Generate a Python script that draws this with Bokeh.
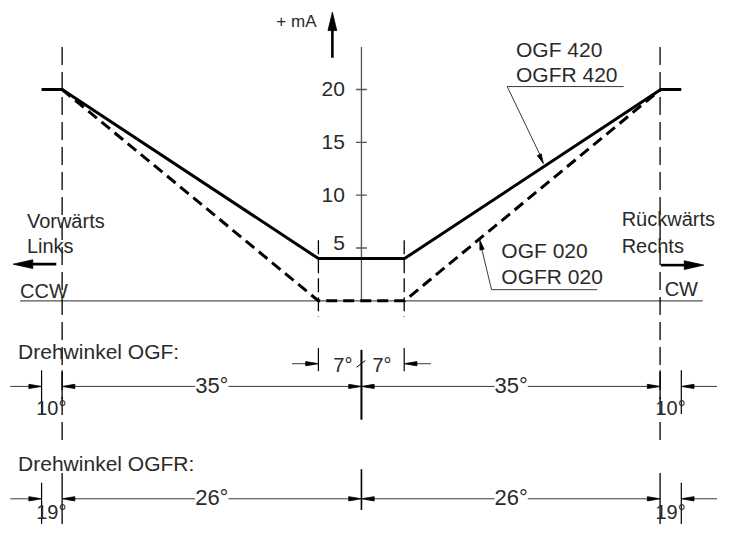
from bokeh.plotting import figure
from bokeh.models import Range1d
from bokeh.core.properties import value
from bokeh.embed import file_html
from bokeh.resources import INLINE

# ---------------- data ----------------
ma_ticks = [5, 10, 15, 20]
ma_tick_labels = ["5", "10", "15", "20"]
ogf420_ma = [20, 20, 4, 4, 20, 20]      # OGF 420 / OGFR 420 (solid)
ogf020_ma = [20, 0, 0, 20]              # OGF 020 / OGFR 020 (dashed)
ogf_angle_labels = ["10°", "35°", "35°", "10°"]
dead_band_labels = ["7°", "7°"]
ogfr_angle_labels = ["19°", "26°", "26°", "19°"]

# schematic (not to scale) horizontal stations, drawing units, centre = 0
x_stop = 327   # end of 20 mA plateau
x_lim = 306    # limit lines
x_db = 44      # dead band edges
sol_x = [-x_stop, -x_lim, -x_db, x_db, x_lim, x_stop]
dash_x = [-x_lim, -x_db, x_db, x_lim]

# ---------------- layout helpers ----------------
W, H = 717, 524
OX, OY, S = 369.0, 309.5, 10.89   # drawing origin and drawing px per mA


def X(px):
    return px - OX


def Y(py):
    return (OY - py) / S


FONT = value("Liberation Sans")
TXT = "#2a2a2a"
THIN = "#3a3a3a"

p = figure(width=W, height=H, output_backend="svg", toolbar_location=None,
           x_range=Range1d(X(0), X(733)), y_range=Range1d(Y(540), Y(0)),
           min_border=0, x_axis_type=None, y_axis_type=None,
           outline_line_color=None, background_fill_color="white")
p.grid.visible = False


def seg(x0, y0, x1, y1, color=THIN, width=1.0, dash="solid"):
    p.segment(x0=[X(x0)], y0=[Y(y0)], x1=[X(x1)], y1=[Y(y1)],
              line_color=color, line_width=width, line_dash=dash)


def head(tx, ty, fx, fy, L=13.0, w=2.2, color="black"):
    # filled arrow head, tip at (tx,ty), pointing away from (fx,fy)
    dx, dy = tx - fx, ty - fy
    n = (dx * dx + dy * dy) ** 0.5
    ux, uy = dx / n, dy / n
    bx, by = tx - ux * L, ty - uy * L
    px_, py_ = -uy * w, ux * w
    xs = [X(tx), X(bx + px_), X(bx - px_)]
    ys = [Y(ty), Y(by + py_), Y(by - py_)]
    p.patch(xs, ys, fill_color=color, line_color=color, line_width=0.8)


def txt(x, y, s, size="20px", align="left", color=TXT):
    p.text(x=[X(x)], y=[Y(y)], text=[s], text_font=FONT, text_font_size=size,
           text_align=align, text_baseline="middle", text_color=color)


# ---------------- chart part ----------------
p.segment(x0=[X(20)], y0=[0], x1=[X(718)], y1=[0], line_color="#555555", line_width=1.3)
p.segment(x0=[0], y0=[0], x1=[0], y1=[Y(48)], line_color="#555555", line_width=1.3)
p.segment(x0=[-5.5] * 4, y0=ma_ticks, x1=[5.5] * 4, y1=ma_ticks,
          line_color="#555555", line_width=1.3)
p.text(x=[-17] * 3, y=ma_ticks[1:], text=ma_tick_labels[1:], text_font=FONT,
       text_font_size="21px", text_align="right", text_baseline="middle", text_color=TXT)
p.text(x=[-17], y=[ma_ticks[0]], text=[ma_tick_labels[0]], text_font=FONT,
       text_font_size="21px", text_align="right", text_baseline="middle",
       text_color=TXT, y_offset=-5)

# mA arrow
seg(339.3, 59, 339.3, 28, color="black", width=2.6)
head(339.3, 12, 339.3, 59, L=19, w=4.5)
txt(282, 22, "+ mA", size="17px")

# limit lines (dashed)
for xl in (63, 674.3):
    seg(xl, 48, xl, 460, color="black", width=1.3, dash="18 7")
    seg(xl, 381, xl, 411, color="black", width=1.3)
    seg(xl, 487, xl, 540, color="black", width=1.3)
for xd in (325, 412.7):
    seg(xd, 247, xd, 326, color="black", width=1.3, dash="14 5")

# characteristic curves
p.line(sol_x, ogf420_ma, line_color="black", line_width=3.0)
p.line(dash_x, ogf020_ma, line_color="black", line_width=3.0, line_dash="11 6")

# labels with leaders
txt(527, 50, "OGF 420", size="21px")
txt(527, 76, "OGFR 420", size="21px")
seg(518, 88.7, 637, 88.7)
seg(518, 88.7, 552, 160)
head(555, 168, 518, 88.7, L=10, w=2.2)

txt(512, 258, "OGF 020", size="21px")
txt(512, 284, "OGFR 020", size="21px")
seg(502, 298, 610, 298)
seg(502, 298, 492, 256)
head(490, 247, 502, 298, L=10, w=2.2)

# direction labels
txt(27, 227, "Vorwärts")
txt(27, 253, "Links")
txt(20, 299, "CCW")
seg(57, 271.7, 30, 271.7, color="black", width=2.6)
head(13, 271.7, 57, 271.7, L=20, w=4.5)

txt(635, 225, "Rückwärts")
txt(635, 253.5, "Rechts")
txt(679, 297, "CW")
seg(675, 272.7, 702, 272.7, color="black", width=2.6)
head(719, 272.7, 675, 272.7, L=20, w=4.5)

# ---------------- dimension part ----------------
txt(18, 362, "Drehwinkel OGF:", size="21px")
txt(18, 477, "Drehwinkel OGFR:", size="21px")

# dead band 7° / 7°
yd = 374.3
seg(325, 358, 325, 382, color="black", width=1.2)
seg(412.7, 358, 412.7, 382, color="black", width=1.2)
seg(298, yd, 314, yd)
head(325, yd, 298, yd)
seg(440, yd, 424, yd)
head(412.7, yd, 440, yd)
txt(350, yd + 1, dead_band_labels[0], size="20px", align="center")
txt(390, yd + 1, dead_band_labels[1], size="20px", align="center")
seg(364, 378, 373, 371, color="black", width=1.0)

# centre extension lines
seg(369, 360, 369, 432, color="black", width=2.0)
seg(369, 483, 369, 525, color="black", width=1.6)


def dim_row(yr, labels, ext_top_outer, lab_y):
    seg(42, ext_top_outer, 42, ext_top_outer + 45, color="black", width=1.2)
    seg(696, ext_top_outer, 696, ext_top_outer + 45, color="black", width=1.2)
    seg(10, yr, 32, yr)
    head(42, yr, 10, yr)
    seg(733, yr, 706, yr)
    head(696, yr, 733, yr)
    for a, b, c in ((63, 369, 216), (369, 674.3, 522)):
        seg(a + 10, yr, c - 17, yr)
        seg(c + 17, yr, b - 10, yr)
        head(a, yr, b, yr)
        head(b, yr, a, yr)
        txt(c, yr - 1, labels[1], size="22px", align="center")
    txt(52, lab_y, labels[0], size="20px", align="center")
    txt(685, lab_y, labels[3], size="20px", align="center")


dim_row(397.7, ogf_angle_labels, 381, 419.5)
dim_row(513.5, ogfr_angle_labels, 497, 527)

open("out.html", "w").write(file_html(p, INLINE))
